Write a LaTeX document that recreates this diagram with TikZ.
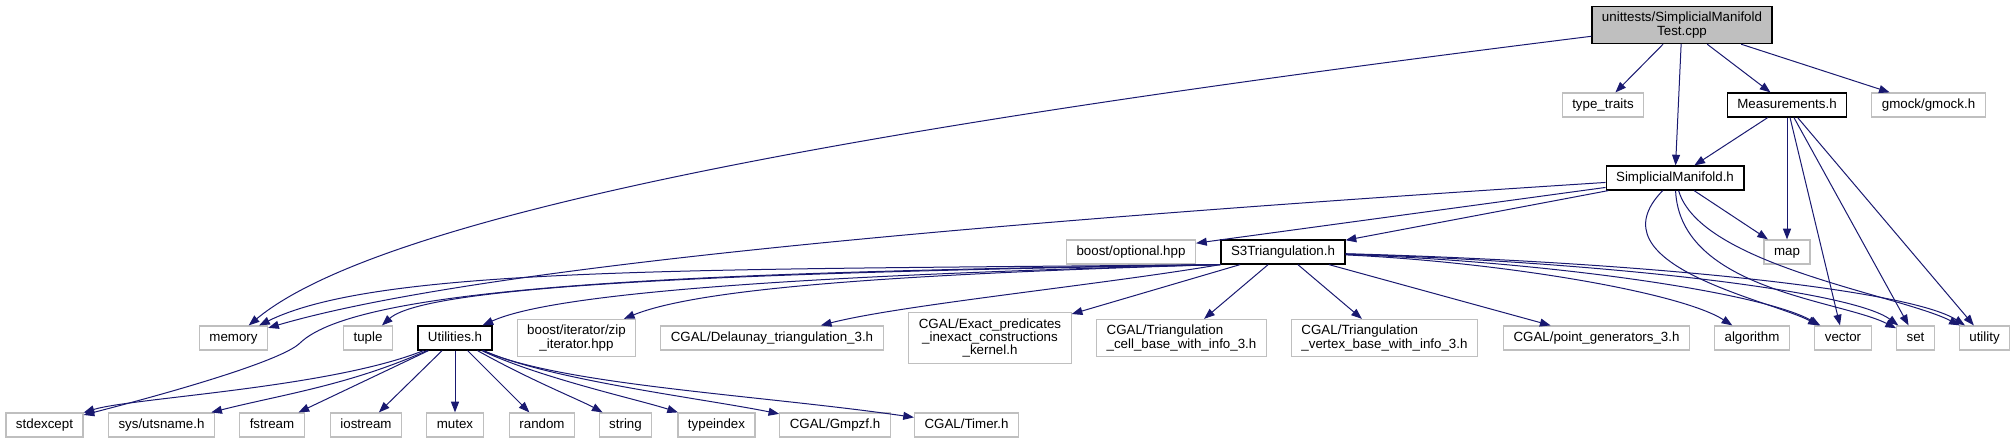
\documentclass[tikz,border=0pt]{standalone}
\usepackage{fontspec}
\setmainfont{Liberation Sans}
\usepackage{tikz}
\usetikzlibrary{arrows.meta}
\definecolor{edgeblue}{HTML}{191970}
\definecolor{boxgray}{HTML}{BFBFBF}

\begin{document}
\begin{tikzpicture}[
  x=0.75pt, y=0.75pt,
  base/.style={rectangle, draw=boxgray, line width=0.9pt, fill=white, inner xsep=7.5pt, inner ysep=4.3pt, font=\fontsize{10}{10}\selectfont},
  file/.style={base, text height=7.3pt, text depth=2.1pt},
  multifile/.style={base, align=center},
  ownfile/.style={file, draw=black},
  mainfile/.style={multifile, draw=black, fill=boxgray},
  arrow/.style={-{Triangle[length=8pt,width=6pt]}, color=edgeblue, line width=0.75pt}
]
\useasboundingbox (0,0) rectangle (2016,-443);

\node[mainfile] (test) at (1682,-25) {unittests/SimplicialManifold\\Test.cpp};
\node[file] (typetraits) at (1603,-105) {type\_traits};
\node[ownfile] (measurements) at (1787,-105) {Measurements.h};
\node[file] (gmock) at (1928.5,-105) {gmock/gmock.h};
\node[ownfile] (manifold) at (1675,-178) {SimplicialManifold.h};
\node[file] (optional) at (1131,-252) {boost/optional.hpp};
\node[ownfile] (s3) at (1283,-252) {S3Triangulation.h};
\node[file] (map) at (1787,-252) {map};

\node[file] (memory) at (233.5,-338) {memory};
\node[file] (tuple) at (368,-338) {tuple};
\node[ownfile] (utilities) at (455,-338) {Utilities.h};
\node[multifile] (zip) at (576.5,-338) {boost/iterator/zip\\\_iterator.hpp};
\node[file] (delaunay) at (772,-338) {CGAL/Delaunay\_triangulation\_3.h};
\node[multifile] (exact) at (990,-338) {CGAL/Exact\_predicates\\\_inexact\_constructions\\\_kernel.h};
\node[multifile, align=left] (cellbase) at (1181.5,-338) {CGAL/Triangulation\\\_cell\_base\_with\_info\_3.h};
\node[multifile, align=left] (vertexbase) at (1384.5,-338) {CGAL/Triangulation\\\_vertex\_base\_with\_info\_3.h};
\node[file] (pointgen) at (1596.5,-338) {CGAL/point\_generators\_3.h};
\node[file] (algorithm) at (1752,-338) {algorithm};
\node[file] (vector) at (1843,-338) {vector};
\node[file] (set) at (1915.5,-338) {set};
\node[file] (utility) at (1984.5,-338) {utility};

\node[file] (stdexcept) at (44.5,-425) {stdexcept};
\node[file] (utsname) at (161.5,-425) {sys/utsname.h};
\node[file] (fstream) at (272,-425) {fstream};
\node[file] (iostream) at (366,-425) {iostream};
\node[file] (mutex) at (455,-425) {mutex};
\node[file] (random) at (542,-425) {random};
\node[file] (string) at (625.5,-425) {string};
\node[file] (typeindex) at (716.5,-425) {typeindex};
\node[file] (gmpzf) at (835,-425) {CGAL/Gmpzf.h};
\node[file] (timer) at (966.5,-425) {CGAL/Timer.h};

\draw[arrow] (test) .. controls (1000,-110) and (400,-200) .. (memory);
\draw[arrow] (test) -- (typetraits);
\draw[arrow] (test) -- (manifold);
\draw[arrow] (test) -- (measurements);
\draw[arrow] (test) -- (gmock);

\draw[arrow] (measurements) -- (manifold);
\draw[arrow] (measurements) -- (map);
\draw[arrow] (measurements) -- (vector);
\draw[arrow] (measurements) -- (set);
\draw[arrow] (measurements) -- (utility);

\draw[arrow] (manifold) .. controls (1100,-215) and (500,-260) .. (memory);
\draw[arrow] (manifold) -- (optional);
\draw[arrow] (manifold) -- (s3);
\draw[arrow] (manifold) -- (map);
\draw[arrow] (manifold) .. controls (1590,-265) and (1770,-300) .. (vector);
\draw[arrow] (manifold) .. controls (1680,-290) and (1840,-300) .. (set);
\draw[arrow] (manifold) .. controls (1700,-265) and (1900,-295) .. (utility);

\draw[arrow] (s3.south west) .. controls (700,-270) and (380,-266) .. (memory);
\draw[arrow] (s3.south west) .. controls (700,-272) and (360,-285) .. (300,-343) .. controls (285,-358) and (200,-385) .. (stdexcept);
\draw[arrow] (s3.south west) .. controls (800,-272) and (430,-282) .. (tuple);
\draw[arrow] (s3.south west) .. controls (850,-274) and (560,-290) .. (utilities);
\draw[arrow] (s3.south west) .. controls (900,-274) and (700,-288) .. (zip);
\draw[arrow] (s3.south west) .. controls (1100,-285) and (900,-305) .. (delaunay);
\draw[arrow] (s3) -- (exact);
\draw[arrow] (s3) -- (cellbase);
\draw[arrow] (s3) -- (vertexbase);
\draw[arrow] (s3) -- (pointgen);
\draw[arrow] (s3) .. controls (1500,-262) and (1680,-292) .. (algorithm);
\draw[arrow] (s3) .. controls (1550,-262) and (1760,-292) .. (vector);
\draw[arrow] (s3) .. controls (1600,-262) and (1850,-290) .. (set);
\draw[arrow] (s3) .. controls (1650,-262) and (1910,-290) .. (utility);

\draw[arrow] (utilities) .. controls (330,-388) and (130,-398) .. (stdexcept);
\draw[arrow] (utilities) .. controls (350,-385) and (280,-395) .. (utsname);
\draw[arrow] (utilities) -- (fstream);
\draw[arrow] (utilities) -- (iostream);
\draw[arrow] (utilities) -- (mutex);
\draw[arrow] (utilities) -- (random);
\draw[arrow] (utilities) .. controls (530,-380) and (580,-400) .. (string);
\draw[arrow] (utilities) .. controls (540,-378) and (640,-400) .. (typeindex);
\draw[arrow] (utilities) .. controls (550,-380) and (700,-398) .. (gmpzf);
\draw[arrow] (utilities) .. controls (560,-385) and (760,-395) .. (timer);
\end{tikzpicture}
\end{document}
